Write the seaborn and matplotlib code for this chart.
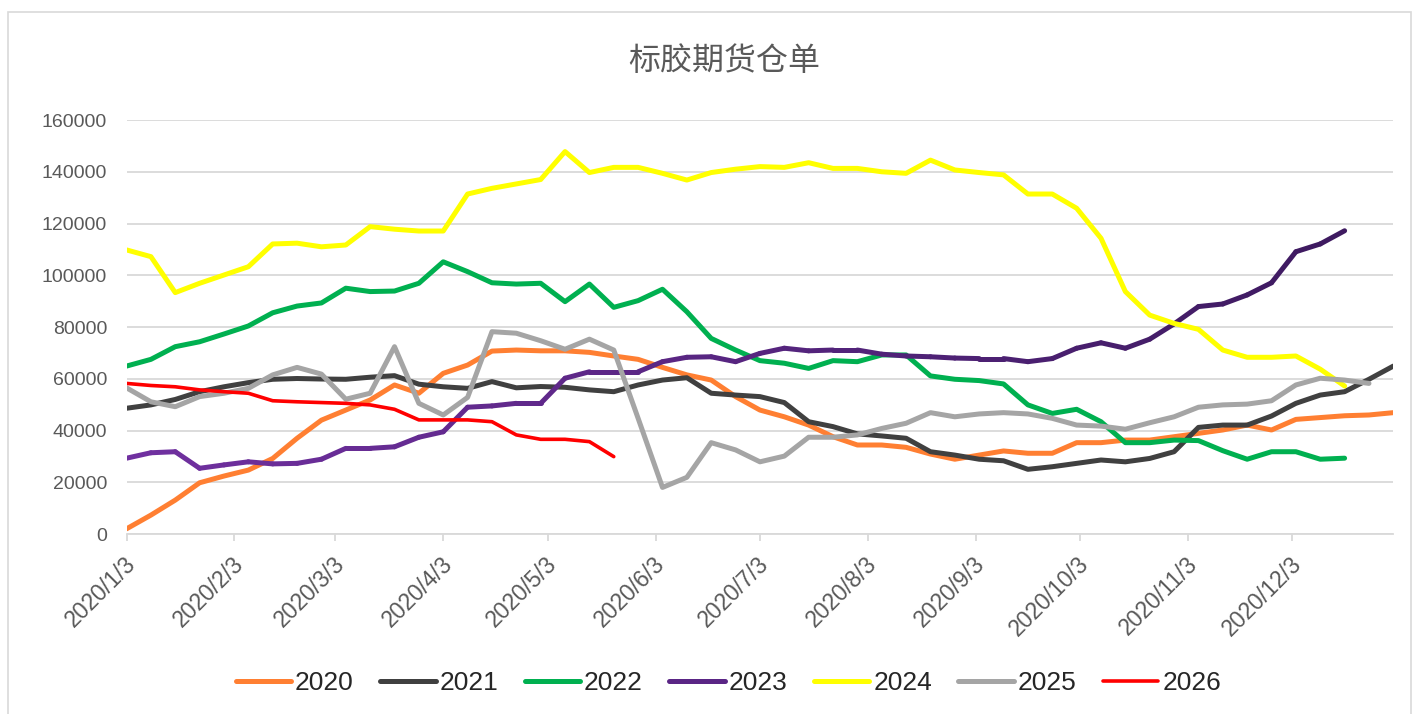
import matplotlib
matplotlib.use("Agg")
import numpy as np
import pandas as pd
import matplotlib.pyplot as plt
import matplotlib.dates as mdates
from matplotlib.collections import LineCollection
from matplotlib.colors import LinearSegmentedColormap
from matplotlib.lines import Line2D
from matplotlib.patches import Rectangle
from matplotlib.transforms import ScaledTranslation
import seaborn as sns

# ---------------- 数据（周度，按2020年日期对齐） ----------------
dates = pd.date_range("2020-01-03", periods=53, freq="7D")

y2020 = [2000, 7300, 13100, 19800, 22400, 24700, 29200, 37000, 44000, 47900,
         51800, 57600, 54400, 62100, 65300, 70700, 71100, 70800, 70800, 70200,
         68800, 67500, 64400, 61500, 59500, 53100, 47900, 45300, 42100, 37600,
         34400, 34400, 33500, 30900, 28900, 30500, 32100, 31200, 31200, 35300,
         35300, 36300, 36300, 37600, 38900, 40200, 42100, 40200, 44300, 45000,
         45700, 46000, 46900]
y2021 = [48600, 49900, 52000, 55000, 56900, 58500, 59800, 60100, 59900, 59800,
         60600, 61200, 57900, 56900, 56300, 58900, 56500, 57000, 56700, 55700,
         55000, 57600, 59500, 60400, 54400, 53700, 53100, 50800, 43400, 41500,
         38700, 37900, 37000, 31800, 30500, 28900, 28300, 25000, 26000, 27300,
         28600, 27900, 29200, 31800, 41200, 42100, 42100, 45600, 50500, 53700,
         55000, 59800, 64900]
y2022 = [64900, 67500, 72400, 74300, 77300, 80400, 85500, 88100, 89300, 95000,
         93700, 93900, 96900, 105200, 101400, 97100, 96600, 96900, 89800, 96600,
         87600, 90200, 94600, 85900, 75600, 71100, 67000, 66000, 64000, 67000,
         66600, 69200, 69200, 61100, 59800, 59300, 58000, 49900, 46600, 48200,
         43400, 35300, 35300, 36300, 36100, 32200, 28900, 31800, 31800, 28900,
         29300]
y2023 = [29300, 31400, 31800, 25400, 26700, 27900, 27100, 27300, 28900, 33100,
         33100, 33700, 37400, 39500, 49000, 49500, 50500, 50500, 60200, 62700,
         62700, 62700, 66600, 68300, 68500, 66600, 69800, 71800, 70800, 71100,
         71100, 69500, 68800, 68500, 68000, 67800, 67800, 66600, 67800, 71800,
         73900, 71800, 75300, 81200, 87900, 88900, 92400, 97100, 109100, 112100,
         117200]
y2024 = [109800, 107200, 93300, 96900, 100100, 103300, 112100, 112400, 111000, 111700,
         118800, 117800, 117100, 117100, 131400, 133600, 135300, 137000, 147800, 139700,
         141700, 141700, 139400, 136800, 139700, 141000, 142000, 141700, 143500, 141300,
         141300, 140000, 139400, 144500, 140700, 139700, 138800, 131400, 131400, 125900,
         114300, 93700, 84600, 81400, 79100, 71100, 68300, 68300, 68800, 63700,
         57200]
y2025 = [56500, 51100, 49200, 53100, 54400, 56300, 61500, 64400, 61800, 52100,
         54400, 72400, 50500, 46000, 52800, 78200, 77600, 74700, 71400, 75300,
         71100, 44700, 18000, 21900, 35300, 32500, 27900, 30100, 37400, 37400,
         38300, 40800, 42800, 46900, 45300, 46400, 46900, 46400, 44700, 42100,
         41700, 40500, 43000, 45300, 49000, 49900, 50200, 51500, 57600, 60200,
         59500, 58200]
y2026 = [58200, 57400, 56900, 55700, 55000, 54400, 51500, 51100, 50800, 50500,
         49900, 48200, 44100, 44100, 44100, 43400, 38300, 36600, 36600, 35700,
         29900]

years = ["2020", "2021", "2022", "2023", "2024", "2025", "2026"]
values = [y2020, y2021, y2022, y2023, y2024, y2025, y2026]
colors = ["#FF7F32", "#404040", "#00B050", "#6A2E98", "#FFFF00", "#A5A5A5", "#FF0000"]
widths = [3.6, 3.6, 3.6, 3.6, 3.6, 3.6, 2.6]

tick_dates = pd.date_range("2020-01-01", periods=12, freq="MS") + pd.Timedelta(days=2)
tick_labels = [f"{d.year}/{d.month}/{d.day}" for d in tick_dates]

# ---------------- 样式 ----------------
sns.set_theme(style="white")
plt.rcParams["font.family"] = ["Liberation Sans", "Noto Sans CJK SC", "DejaVu Sans"]

fig = plt.figure(figsize=(14.17, 7.14), dpi=100)
ax = fig.add_axes([0.0893, 0.2521, 0.894, 0.5798])

df = pd.concat(
    [pd.DataFrame({"date": dates[:len(v)], "value": v, "year": y}) for y, v in zip(years, values)],
    ignore_index=True,
)

for y, c, lw in zip(years, colors, widths):
    sub = df[df["year"] == y]
    if y == "2023":
        # 2023 渐变紫色
        xs = mdates.date2num(sub["date"])
        pts = np.column_stack([xs, sub["value"].to_numpy()])
        segs = np.stack([pts[:-1], pts[1:]], axis=1)
        cmap = LinearSegmentedColormap.from_list("purp", ["#7030A0", "#3E1A60"])
        lc = LineCollection(segs, cmap=cmap, linewidths=lw, capstyle="round", joinstyle="round")
        lc.set_array(np.linspace(0, 1, len(segs)))
        ax.add_collection(lc)
        continue
    sns.lineplot(data=sub, x="date", y="value", color=c, linewidth=lw, ax=ax,
                 legend=False, sort=False, estimator=None,
                 solid_capstyle="round", solid_joinstyle="round")

# ---------------- 坐标轴 ----------------
ax.set_xlim(dates[0], dates[-1])
ax.set_ylim(0, 160000)
ax.set_yticks(np.arange(0, 160001, 20000))
ax.set_yticklabels([str(v) for v in range(0, 160001, 20000)])
ax.set_xticks(mdates.date2num(tick_dates))
ax.set_xticklabels(tick_labels, rotation=45, ha="right", va="center", rotation_mode="anchor")
ax.set(xlabel="", ylabel="")

ax.tick_params(axis="y", length=0, pad=14, labelsize=14, labelcolor="#595959")
ax.tick_params(axis="x", direction="out", length=5, width=1.3, color="#D9D9D9",
               pad=14, labelsize=16.5, labelcolor="#595959", bottom=True)
for lab in ax.get_xticklabels():
    lab.set_transform(lab.get_transform() + ScaledTranslation(4 / 72, 0, fig.dpi_scale_trans))
ax.yaxis.grid(True, color="#D9D9D9", linewidth=1.3)
ax.xaxis.grid(False)
ax.set_axisbelow(True)
for s in ["left", "top", "right"]:
    ax.spines[s].set_visible(False)
ax.spines["bottom"].set_color("#D9D9D9")
ax.spines["bottom"].set_linewidth(1.3)

# ---------------- 标题 & 图例 ----------------
fig.text(0.511, 0.913, "标胶期货仓单", fontsize=23, color="#595959", ha="center", va="center")

handles = [Line2D([0], [0], color=c if y != "2023" else "#5A2585", lw=lw,
                  solid_capstyle="round") for y, c, lw in zip(years, colors, widths)]
fig.legend(handles, years, loc="center", bbox_to_anchor=(0.514, 0.043), ncol=7,
           frameon=False, fontsize=19, handlelength=2.1, handletextpad=0.15,
           columnspacing=1.0)

# 外框
fig.patches.append(Rectangle((8 / 1417, -0.01), 1403 / 1417, (714 - 12) / 714 + 0.01,
                             transform=fig.transFigure, fill=False,
                             edgecolor="#D9D9D9", linewidth=1.2))

fig.savefig("out.png", dpi=100)
